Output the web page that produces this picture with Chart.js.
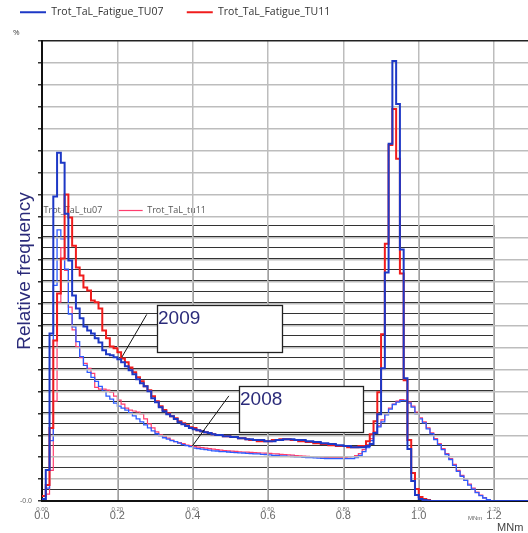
<!DOCTYPE html>
<html>
<head>
<meta charset="utf-8">
<script src="https://cdn.jsdelivr.net/npm/chart.js@4.4.1/dist/chart.umd.min.js"></script>
<style>
  html, body { margin: 0; padding: 0; background: #fff; }
  #wrap { position: relative; width: 528px; height: 533px; }
  #wrap canvas { position: absolute; left: 0; top: 0; }
</style>
</head>
<body>
<div id="wrap">
  <canvas id="inner" width="528" height="533"></canvas>
  <canvas id="outer" width="528" height="533"></canvas>
</div>
<script>
'use strict';

/* ---------- data ---------- */
const binWidth = 0.01;                    // MNm per histogram class
const outerNames = ['Trot_TaL_Fatigue_TU07', 'Trot_TaL_Fatigue_TU11'];
const innerNames = ['Trot_TaL_tu07', 'Trot_TaL_tu11'];
const outerTickLabels = ['0.00', '0.20', '0.40', '0.60', '0.80', '1.00', '1.20'];
const innerTickLabels = ['0.0', '0.2', '0.4', '0.6', '0.8', '1.0', '1.2'];

// 2009 campaign (outer chart, grid units)
const tu07_2009 = [
  0.09, 1.41, 7.65, 13.9, 15.9, 15.44, 13.12, 10.98, 9.38, 8.79,
  8.34, 7.97, 7.79, 7.65, 7.43, 7.24, 6.88, 6.70, 6.65, 6.56,
  6.47, 6.33, 6.15, 5.97, 5.79, 5.56, 5.38, 5.24, 5.01, 4.69,
  4.51, 4.28, 4.10, 3.96, 3.87, 3.74, 3.60, 3.51, 3.42, 3.33,
  3.28, 3.23, 3.19, 3.14, 3.10, 3.05, 3.01, 3.01, 2.96, 2.96,
  2.92, 2.92, 2.87, 2.87, 2.82, 2.82, 2.78, 2.78, 2.78, 2.73,
  2.73, 2.73, 2.78, 2.78, 2.82, 2.82, 2.82, 2.78, 2.78, 2.78,
  2.73, 2.73, 2.69, 2.69, 2.64, 2.64, 2.60, 2.60, 2.55, 2.55,
  2.51, 2.51, 2.46, 2.46, 2.46, 2.46, 2.51, 2.60, 3.10, 3.96,
  6.06, 10.43, 16.31, 20.09, 18.13, 11.48, 5.60, 2.37, 0.91, 0.27,
  0.09, 0.05, 0.02
];
const tu11_2009 = [
  0.23, 0.73, 3.33, 7.33, 9.48, 11.07, 13.99, 12.94, 11.66, 10.66,
  10.30, 9.75, 9.61, 9.16, 9.07, 8.79, 7.79, 7.43, 7.06, 6.97,
  6.79, 6.51, 6.33, 6.10, 5.88, 5.65, 5.47, 5.24, 5.06, 4.78,
  4.56, 4.33, 4.15, 4.01, 3.87, 3.78, 3.64, 3.55, 3.46, 3.37,
  3.33, 3.23, 3.19, 3.14, 3.10, 3.05, 3.01, 3.01, 2.96, 2.96,
  2.92, 2.92, 2.87, 2.87, 2.82, 2.78, 2.78, 2.73, 2.73, 2.73,
  2.73, 2.78, 2.78, 2.82, 2.82, 2.82, 2.78, 2.78, 2.73, 2.73,
  2.69, 2.69, 2.64, 2.64, 2.60, 2.60, 2.55, 2.55, 2.51, 2.51,
  2.51, 2.46, 2.46, 2.46, 2.51, 2.51, 2.73, 3.05, 3.64, 4.97,
  7.61, 11.75, 16.26, 17.90, 15.63, 10.39, 5.51, 2.78, 1.28, 0.55,
  0.18, 0.09, 0.05
];

// 2008 campaign (inner chart, grid units)
const tu07_2008 = [
  0.09, 1.16, 5.47, 19.53, 24.55, 23.75, 21.00, 16.94, 15.77, 14.43,
  13.08, 12.28, 11.65, 11.20, 10.84, 10.39, 9.95, 9.50, 9.23, 8.87,
  8.60, 8.42, 8.24, 7.98, 7.71, 7.44, 7.17, 6.90, 6.63, 6.36,
  6.09, 5.91, 5.73, 5.60, 5.47, 5.38, 5.24, 5.11, 5.02, 4.93,
  4.79, 4.75, 4.70, 4.66, 4.61, 4.54, 4.53, 4.48, 4.48, 4.44,
  4.41, 4.39, 4.36, 4.35, 4.32, 4.30, 4.27, 4.26, 4.23, 4.21,
  4.17, 4.14, 4.12, 4.09, 4.08, 4.05, 4.03, 4.00, 3.99, 3.96,
  3.94, 3.92, 3.91, 3.89, 3.87, 3.85, 3.83, 3.83, 3.83, 3.83,
  3.83, 3.83, 3.85, 3.94, 4.12, 4.48, 4.84, 5.47, 6.18, 6.72,
  7.17, 7.80, 8.33, 8.74, 8.96, 9.09, 9.09, 8.87, 8.51, 7.89,
  7.44, 7.08, 6.54, 6.09, 5.56, 5.11, 4.66, 4.21, 3.76, 3.23,
  2.69, 2.24, 1.88, 1.43, 1.08, 0.76, 0.49, 0.27, 0.13, 0.04
];
const tu11_2008 = [
  0.04, 0.63, 2.78, 9.05, 18.01, 22.94, 20.88, 17.56, 15.50, 13.98,
  12.99, 12.46, 12.01, 11.56, 10.30, 10.13, 10.13, 10.04, 9.86, 9.50,
  9.14, 8.78, 8.42, 8.24, 8.15, 8.06, 7.89, 7.44, 6.99, 6.63,
  6.27, 6.00, 5.87, 5.69, 5.51, 5.38, 5.29, 5.20, 5.06, 5.02,
  4.93, 4.88, 4.84, 4.79, 4.75, 4.70, 4.66, 4.61, 4.57, 4.54,
  4.52, 4.49, 4.46, 4.44, 4.42, 4.40, 4.38, 4.36, 4.35, 4.33,
  4.31, 4.28, 4.26, 4.23, 4.21, 4.18, 4.16, 4.12, 4.10, 4.07,
  4.05, 4.03, 4.01, 4.00, 3.98, 3.96, 3.94, 3.94, 3.94, 3.94,
  3.94, 3.99, 4.03, 4.12, 4.30, 4.66, 5.11, 5.65, 6.27, 6.81,
  7.35, 7.89, 8.42, 8.78, 9.05, 9.18, 9.14, 8.96, 8.60, 8.06,
  7.53, 7.17, 6.63, 6.18, 5.65, 5.20, 4.75, 4.30, 3.85, 3.32,
  2.78, 2.33, 1.88, 1.52, 1.16, 0.81, 0.54, 0.31, 0.13, 0.04
];

// call-out boxes, in outer-chart data units
const callouts = [
  { text: '2009', x0: 0.305, x1: 0.637, y0: 8.93, y1: 6.79, from: [0.212, 6.57], to: [0.278, 8.52] },
  { text: '2008', x0: 0.523, x1: 0.852, y0: 5.24, y1: 3.14, from: [0.399, 2.51], to: [0.496, 4.80] }
];

/* ---------- helpers ---------- */
function toSteps(values, end) {
  const pts = values.map((v, i) => ({ x: i * binWidth, y: v }));
  const last = values.length * binWidth;
  pts.push({ x: last, y: 0 });
  if (end > last) pts.push({ x: end, y: 0 });
  return pts;
}

const stepLine = (data, color, width) => ({
  data, borderColor: color, backgroundColor: color, borderWidth: width,
  stepped: true, pointRadius: 0, fill: false, tension: 0
});

// legend helper: widen the gap after the first entry
const spacedLabels = (gap, hideFirst) => chart => {
  const items = Chart.defaults.plugins.legend.labels.generateLabels(chart);
  items[0].text += gap;
  if (hideFirst) items[0].strokeStyle = 'rgba(0,0,0,0)';
  return items;
};

const navy = '#2b2b7a';

const calloutPlugin = {
  id: 'callouts',
  afterDraw(chart) {
    const { ctx } = chart;
    const x = chart.scales.x, y = chart.scales.y;
    ctx.save();
    callouts.forEach(c => {
      ctx.strokeStyle = '#111';
      ctx.lineWidth = 1;
      ctx.beginPath();
      ctx.moveTo(x.getPixelForValue(c.from[0]), y.getPixelForValue(c.from[1]));
      ctx.lineTo(x.getPixelForValue(c.to[0]), y.getPixelForValue(c.to[1]));
      ctx.stroke();
      const l = Math.round(x.getPixelForValue(c.x0)), r = Math.round(x.getPixelForValue(c.x1));
      const t = Math.round(y.getPixelForValue(c.y0)), b = Math.round(y.getPixelForValue(c.y1));
      ctx.fillStyle = '#fff';
      ctx.fillRect(l, t, r - l, b - t);
      ctx.lineWidth = 1.3;
      ctx.strokeStyle = '#222';
      ctx.strokeRect(l + 0.5, t + 0.5, r - l, b - t);
      ctx.fillStyle = navy;
      ctx.font = '19px "Liberation Sans", Arial, sans-serif';
      ctx.textBaseline = 'top';
      ctx.fillText(c.text, l + 1, t + 4);
    });
    // unit labels of both x axes
    ctx.fillStyle = '#666';
    ctx.textBaseline = 'middle';
    ctx.textAlign = 'center';
    ctx.font = '6px "Liberation Sans", Arial, sans-serif';
    ctx.fillText('MNm', x.getPixelForValue(1.2) - 19, 518);
    ctx.fillStyle = '#444';
    ctx.textAlign = 'left';
    ctx.font = '11px "Liberation Sans", Arial, sans-serif';
    ctx.fillText('MNm', x.getPixelForValue(1.2) + 3, 528);
    ctx.restore();
  }
};

/* ---------- inner chart (2008, black grid) ---------- */
new Chart(document.getElementById('inner'), {
  type: 'line',
  data: {
    datasets: [
      { label: innerNames[0], ...stepLine(toSteps(tu07_2008, 1.2), '#2d5bff', 1.3) },
      { label: innerNames[1], ...stepLine(toSteps(tu11_2008, 1.2), '#ff3d6e', 1.2) }
    ]
  },
  options: {
    responsive: false,
    animation: false,
    layout: { padding: { top: 199, left: 8, right: 34, bottom: 0 } },
    plugins: {
      tooltip: { enabled: false },
      legend: {
        align: 'start',
        labels: {
          usePointStyle: true,
          pointStyle: 'line',
          pointStyleWidth: 24,
          padding: 7,
          color: '#555',
          font: { size: 9, family: 'Open Sans' },
          generateLabels: spacedLabels('    ', true)
        }
      }
    },
    scales: {
      x: {
        type: 'linear', min: 0, max: 1.2,
        ticks: {
          stepSize: 0.2, maxRotation: 0, padding: 8, color: '#666',
          font: { size: 11, family: 'Liberation Sans' },
          callback: (v, i) => innerTickLabels[i]
        },
        grid: { color: '#2a2a2a', lineWidth: 1.6, drawTicks: false },
        border: { color: '#111', width: 2 },
        afterFit: s => { s.height = 32; }
      },
      y: {
        min: 0, max: 25,
        ticks: { stepSize: 1, display: false },
        grid: { color: '#333', lineWidth: 1, drawTicks: false },
        border: { color: '#111', width: 2 },
        afterFit: s => { s.width = 34; }
      }
    }
  }
});

/* ---------- outer chart (2009, grey grid) ---------- */
new Chart(document.getElementById('outer'), {
  type: 'line',
  data: {
    datasets: [
      { label: outerNames[0], ...stepLine(toSteps(tu07_2009, 1.3), '#1d38c6', 2) },
      { label: outerNames[1], ...stepLine(toSteps(tu11_2009, 1.3), '#f01c1c', 2) }
    ]
  },
  options: {
    responsive: false,
    animation: false,
    layout: { padding: { top: 0, left: 13, right: 0, bottom: 0 } },
    plugins: {
      tooltip: { enabled: false },
      legend: {
        align: 'start',
        labels: {
          usePointStyle: true,
          pointStyle: 'line',
          pointStyleWidth: 26,
          padding: 7,
          color: '#333',
          font: { size: 10.5, family: 'Open Sans' },
          generateLabels: spacedLabels('      ', false)
        }
      },
      title: {
        display: true, text: '%', align: 'start', weight: 500,
        color: '#444', font: { size: 8, family: 'Open Sans', weight: 'normal' },
        padding: { top: 0, bottom: 4 }
      }
    },
    scales: {
      x: {
        type: 'linear', min: 0, max: 1.29,
        ticks: {
          stepSize: 0.2, includeBounds: false, maxRotation: 0, padding: 5, color: '#777',
          font: { size: 6, family: 'Liberation Sans' },
          callback: (v, i) => outerTickLabels[i]
        },
        grid: { color: '#bdbdbd', lineWidth: 1.5, drawTicks: false },
        border: { color: '#111', width: 2 },
        afterFit: s => { s.height = 32; }
      },
      y: {
        min: 0, max: 21,
        ticks: {
          stepSize: 1, padding: 6, color: '#666',
          font: { size: 7, family: 'Liberation Sans' },
          callback: v => (v === 0 ? '-0.0' : '')
        },
        grid: {
          color: c => (c.tick && c.tick.value === 21 ? '#222' : '#bdbdbd'),
          lineWidth: 1.5, tickColor: '#333', tickLength: 4
        },
        border: { color: '#111', width: 2 },
        title: {
          display: true, text: 'Relative frequency', color: navy, padding: 0,
          font: { size: 19, family: 'Liberation Sans' }
        },
        afterFit: s => { s.width = 29; }
      }
    }
  },
  plugins: [calloutPlugin]
});
</script>
</body>
</html>
